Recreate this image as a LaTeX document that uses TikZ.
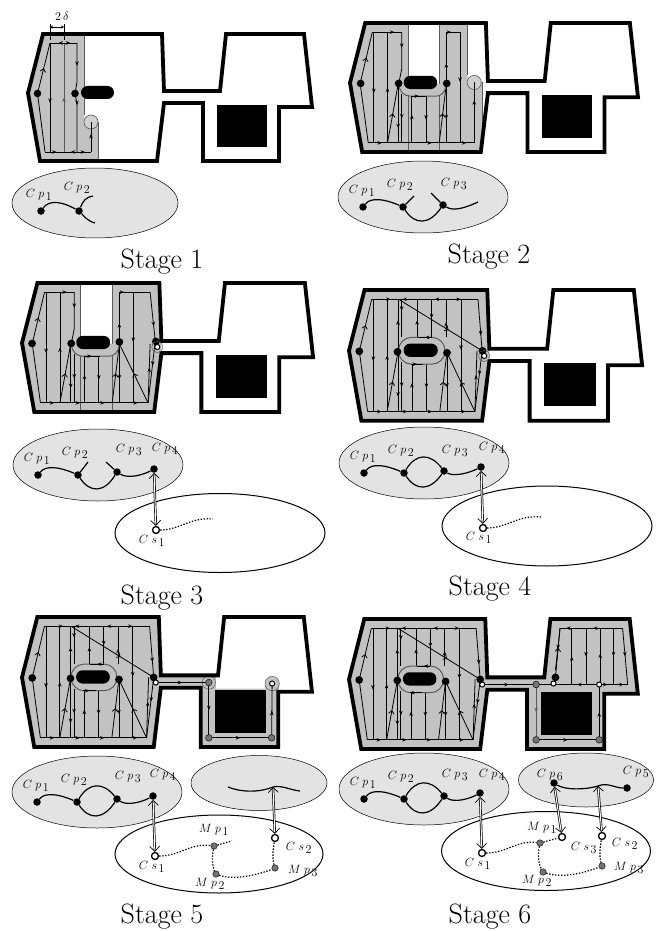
\documentclass[tikz,border=0pt]{standalone}
\usepackage{amsmath}
\usepackage{amssymb}
\usetikzlibrary{arrows.meta,decorations.markings}
\definecolor{cellgray}{gray}{0.76}
\definecolor{mapgray}{gray}{0.89}
\definecolor{edgegray}{gray}{0.35}
\tikzset{
  wall/.style={line width=3.8pt,miter limit=4},
  track/.style={line width=.8pt},
  flow/.style={track,postaction={decorate,decoration={markings,mark=at position #1 with {\arrow{Stealth[length=4.5pt,width=3.6pt]}}}}},
  flow/.default=0.5,
  vflow/.style={track,postaction={decorate,decoration={markings,mark=at position #1 with {\arrow{Straight Barb[length=3pt,width=5.5pt]}}}}},
  vflow/.default=0.5,
  blackdot/.style={circle,fill=black,inner sep=0pt,minimum size=7.5pt},
  graydot/.style={circle,fill=black!55,draw=black,line width=.4pt,inner sep=0pt,minimum size=6.5pt},
  opendot/.style={circle,fill=white,draw=black,line width=1.3pt,inner sep=0pt,minimum size=7pt},
  road/.style={line width=1.2pt},
  trail/.style={line width=1.2pt,dash pattern=on 1.4pt off 1.6pt},
  link/.style={double,double distance=1pt,line width=.7pt,<->,>={Straight Barb[length=5pt,width=10pt]}},
  tag/.style={inner sep=0pt,font=\fontsize{12.5}{14}\selectfont},
  stagetag/.style={inner sep=0pt,font=\fontsize{28}{30}\selectfont},
}
\newcommand{\cpt}[1]{$C\;p_{\,\textstyle #1}$}
\newcommand{\cst}[1]{$C\;s_{\,\textstyle #1}$}
\newcommand{\mpt}[1]{$M\;p_{\,\textstyle #1}$}
\newcommand{\planwalls}{
  \draw[wall] (15,0) -- (134,0) -- (136,57) -- (192,57) -- (198,0) -- (276,0) -- (284,73) -- (251,73) -- (251,127) -- (175,127) -- (175,69) -- (136,69) -- (129,127) -- (12,127) -- (0,59) -- cycle;
  \fill (189,71) rectangle (239,113);
  \fill[rounded corners=6.5pt] (53,52) rectangle (86,65);
}
\newcommand{\leftside}{
  \draw[vflow] (10,59.5) -- (22,9);
  \draw[track] (10,59.5) -- (18,118);
  \draw[flow=.55] (23.5,9) -- (23.5,118);
  \draw[flow=.5] (37,118) -- (37,9);
  \draw[vflow=.5] (37,118) -- (47.5,60);
  \draw[flow=.75] (47.5,60) -- (47.5,118);
  \draw[flow] (51,70) -- (51,118);
  \draw[flow=.6] (61,118) -- (61,72);
  \draw[flow=.5] (75,72) -- (75,118);
  \draw[vflow=.5] (88,118) -- (95,60);
  \draw[flow=.6] (95,60) -- (95,118);
  \draw[flow=.45] (108.5,9) -- (108.5,118);
}
\newcommand{\lowerhalo}{
  \draw[edgegray,line width=1pt,fill=cellgray] (48,60) .. controls (49,68) and (53,72) .. (60,72) -- (84,72) .. controls (91,72) and (94,68) .. (95,60);
  \draw[flow=.5] (60,72) -- (76,72);
}
\newcommand{\openroom}{
  \draw[edgegray,line width=.6pt] (57,0) -- (57,127) (88,0) -- (88,127);
  \leftside
  \draw[flow=.75] (22,9) -- (51,9);
  \draw[flow=.3] (51,9) -- (51,45) -- (48,60);
  \lowerhalo
  \draw[flow=.4] (95,60) -- (95,9);
  \draw[flow=.35] (95,9) -- (108.5,9);
}
\newcommand{\fullroom}{
  \fill[cellgray] (15,0) -- (134,0) -- (136,57) -- (136,69) -- (129,127) -- (12,127) -- (0,59) -- cycle;
  \leftside
  \draw[track] (22,9) -- (125,9);
  \draw[flow=.8] (22,9) -- (45,9);
  \draw[flow=.8] (66,9) -- (48,9);
  \draw[flow=.8] (95,9) -- (80,9);
  \draw[flow=.9] (94,9) -- (110,9);
  \draw[flow=.6] (47.5,60) -- (47.5,9);
  \draw[flow=.3,line width=1pt] (51,9) -- (51,46);
  \draw[flow=.45] (66,46) -- (66,9);
  \draw[flow=.5] (80,9) -- (80,46);
  \draw[flow=.4] (94,46) -- (94,9);
  \draw[vflow=.6] (48,9) -- (129,59);
  \draw[vflow=.5] (122,118) -- (95,61);
  \draw[flow=.7] (125,9) -- (129,59);
  \draw[flow=.4] (129,59) -- (122,118);
  \draw[flow=.6] (122,118) -- (124,59);
  \draw[edgegray,line width=1pt,fill=cellgray,rounded corners=13pt] (48,46) rectangle (93,72);
  \draw[flow=.5] (80,46) -- (67,46);
  \draw[flow=.5] (60,72) -- (72,72);
}
\newcommand{\bottomrun}{
  \draw[track] (18,118) -- (122,118);
  \draw[flow=.9] (18,118) -- (33,118);
  \draw[flow=.9] (35,118) -- (59,118);
  \draw[flow=.9] (60,118) -- (83,118);
  \draw[flow=.9] (85,118) -- (116,118);
}
\newcommand{\leftmap}{
  \filldraw[fill=mapgray,line width=.5pt] (0,0) ellipse [x radius=85,y radius=36];
  \node[blackdot] (cp1) at (-60,10) {};
  \node[blackdot] (cp2) at (-20,10) {};
  \node[tag] (tp1) at (-61,-6) {\cpt{1}};
  \node[tag] (tp2) at (-23,-12) {\cpt{2}};
  \draw[road] (cp1) .. controls (-52,0) and (-38,2) .. (cp2);
}
\begin{document}
\begin{tikzpicture}[x=1pt,y=-1pt]
\useasboundingbox (0,0) rectangle (657,931);
% stage 1
\begin{scope}[shift={(28,34)}]
  \fill[cellgray] (0,59) -- (15,0) -- (56,0) -- (56,88) -- (70,88) -- (70,127) -- (12,127) -- cycle;
  \draw[edgegray,line width=.6pt] (56,0) -- (56,81) (70,88) -- (70,127);
  \draw[edgegray,fill=black!18,line width=.6pt] (63,88) circle (7);
  \draw[vflow] (9.5,59.5) -- (22,9);
  \draw[track] (9.5,59.5) -- (17,118);
  \draw[flow=.55] (22,9) -- (22,118);
  \draw[flow=.5,edgegray,line width=1pt] (36,118) -- (36,9);
  \draw[track] (22,9) -- (49,9);
  \draw[flow=.8] (36,9) -- (29,9);
  \draw[flow=.8] (36,9) -- (44,9);
  \draw[flow=.45] (49,9) -- (49,48) -- (47,59.5);
  \draw[flow=.2] (47,59.5) -- (49,70) -- (49,118);
  \draw[track] (17,118) -- (63,118);
  \draw[flow=.9] (17,118) -- (30,118);
  \draw[flow=.9] (49,118) -- (42,118);
  \draw[flow=.9] (49,118) -- (58,118);
  \draw[flow=.6] (63,118) -- (63,88);
  \planwalls
  \fill (9.5,59.5) circle (3.8) (47,59.5) circle (3.8);
  \draw[track] (22,-10) -- (22,6) (36,-10) -- (36,6);
  \draw[track,<->,>={Stealth[length=3pt,width=3pt]}] (22,-7) -- (36,-7);
  \node[tag] (gap) at (34,-18) {$2\,\delta$};
\end{scope}
\begin{scope}[shift={(95,203)}]
  \filldraw[fill=mapgray,line width=.5pt] (0,0) ellipse [x radius=83,y radius=35];
  \node[blackdot] (cp1) at (-54,8) {};
  \node[blackdot] (cp2) at (-16,8) {};
  \node[tag] (tp1) at (-56,-8) {\cpt{1}};
  \node[tag] (tp2) at (-18,-15) {\cpt{2}};
  \draw[road] (cp1) .. controls (-46,-3) and (-34,-2) .. (cp2);
  \draw[road] (cp2) .. controls (-12,-2) and (-9,-6) .. (-2,-7);
  \draw[road] (cp2) .. controls (-12,12) and (-8,18) .. (0,20);
\end{scope}
\node[stagetag] (stage1) at (162,262) {Stage 1};
% stage 2
\begin{scope}[shift={(350,23)},xscale=1.014,yscale=1.016]
  \fill[cellgray] (0,59) -- (15,0) -- (57,0) -- (57,60) -- (88,60) -- (88,0) -- (116,0) -- (116,58) -- (130,58) -- (130,118) -- (129,127) -- (12,127) -- cycle;
  \draw[edgegray,line width=.6pt] (116,0) -- (116,51) (130,58) -- (130,120);
  \draw[edgegray,fill=black!18,line width=.6pt] (122.5,58.5) circle (7);
  \openroom
  \draw[flow=.7] (122.5,118) -- (122.5,58);
  \draw[track] (18,118) -- (122.5,118);
  \draw[flow=.9] (18,118) -- (33,118);
  \draw[flow=.9] (60,118) -- (83,118);
  \draw[flow=.9] (85,118) -- (118,118);
  \planwalls
  \fill (10.5,59.5) circle (3.8) (48,59.5) circle (3.8) (95.4,59.5) circle (3.8);
\end{scope}
\begin{scope}[shift={(423,197)}]
  \leftmap
  \node[blackdot] (cp3) at (20,8) {};
  \node[tag] (tp3) at (31,-13) {\cpt{3}};
  \draw[road] (cp2) .. controls (-8,28) and (6,28) .. (cp3);
  \draw[road] (cp2) -- (-9,-1);
  \draw[road] (cp3) -- (8,-4);
  \draw[road] (cp3) .. controls (30,14) and (40,12) .. (55,5);
\end{scope}
\node[stagetag] (stage2) at (489,257) {Stage 2};
% stage 3
\begin{scope}[shift={(22,283)},xscale=1.025,yscale=1.016]
  \fill[cellgray] (0,59) -- (15,0) -- (57,0) -- (57,60) -- (88,60) -- (88,0) -- (134,0) -- (136,57) -- (136,69) -- (129,127) -- (12,127) -- cycle;
  \openroom
  \draw[track] (95,9) -- (125,9);
  \draw[flow=.7] (125,9) -- (130,57);
  \draw[flow=.4] (130,57) -- (123,118);
  \draw[flow=.6] (123,118) -- (125,60);
  \draw[vflow=.5] (123,118) -- (95,60);
  \bottomrun
  \planwalls
  \fill (9.8,59.5) circle (3.8) (48,59.5) circle (3.8) (95,58) circle (3.8) (130.6,57.5) circle (3.8);
  \draw[edgegray,line width=.5pt] (132,63) circle (5.5);
  \draw[fill=white,line width=1pt] (132,63) circle (2.5);
\end{scope}
\begin{scope}[shift={(98,465)}]
  \leftmap
  \node[blackdot] (cp3) at (19,7) {};
  \node[blackdot] (cp4) at (56,4) {};
  \node[tag] (tp3) at (31,-15) {\cpt{3}};
  \node[tag] (tp4) at (67,-16) {\cpt{4}};
  \draw[road] (cp2) .. controls (-8,28) and (6,28) .. (cp3);
  \draw[road] (cp2) -- (-10,-3);
  \draw[road] (cp3) -- (8,-3);
  \draw[road] (cp3) .. controls (30,14) and (45,10) .. (cp4);
\end{scope}
\draw[line width=1pt] (220,533) ellipse [x radius=105,y radius=39.5];
\node[opendot] (cs1) at (156,530) {};
\node[tag] (ts1) at (152,541) {\cst{1}};
\draw[trail] (cs1) .. controls (180,530) and (190,517) .. (213,519);
\draw[link] (cp4) -- (cs1);
\node[stagetag] (stage3) at (162,598) {Stage 3};
% stage 4
\begin{scope}[shift={(349,290)},xscale=1.032,yscale=1.03]
  \fullroom
  \bottomrun
  \planwalls
  \fill (10,59.5) circle (3.8) (47,60) circle (3.8) (95,61) circle (3.8) (129.4,59) circle (3.8);
  \draw[edgegray,line width=.5pt] (131,64) circle (5.5);
  \draw[fill=white,line width=1pt] (131,64) circle (2.5);
\end{scope}
\begin{scope}[shift={(424,463)}]
  \leftmap
  \node[blackdot] (cp3) at (20,8) {};
  \node[blackdot] (cp4) at (57,4) {};
  \node[tag] (tp3) at (31,-12) {\cpt{3}};
  \node[tag] (tp4) at (68,-15) {\cpt{4}};
  \draw[road] (cp2) .. controls (-8,28) and (6,28) .. (cp3);
  \draw[road] (cp2) .. controls (-8,-10) and (6,-10) .. (cp3);
  \draw[road] (cp3) .. controls (30,14) and (45,10) .. (cp4);
\end{scope}
\draw[line width=1pt] (547,526) ellipse [x radius=105,y radius=40];
\node[opendot] (cs1) at (483,528) {};
\node[tag] (ts1) at (479,538) {\cst{1}};
\draw[trail] (cs1) .. controls (507,528) and (517,515) .. (541,517);
\draw[link] (cp4) -- (cs1);
\node[stagetag] (stage4) at (490,589) {Stage 4};
% stage 5
\begin{scope}[shift={(22,617)},xscale=1.021,yscale=1.024]
  \fill[cellgray] (130,57) -- (190,57) -- (190,70) -- (238,70) -- (238,64) -- (252,64) -- (251,127) -- (175,127) -- (175,69) -- (130,69) -- cycle;
  \fullroom
  \bottomrun
  \draw[edgegray,fill=cellgray,line width=.5pt] (183,64) circle (6.5) (245,65) circle (7);
  \planwalls
  \draw[flow=.5] (131,64) -- (183,64);
  \draw[flow=.5] (183,64) -- (183,118);
  \draw[flow=.5] (183,118) -- (244.5,118);
  \draw[flow=.5] (244.5,118) -- (245,65);
  \fill (10,59.5) circle (3.8) (47.5,60) circle (3.8) (95,61) circle (3.8) (129,59) circle (3.8);
  \draw[fill=white,line width=1pt] (131,64) circle (2.5);
  \draw[fill=black!55,line width=.4pt] (183,64) circle (3.3) (183,118) circle (3.3) (244.5,118) circle (3.3);
  \draw[fill=white,line width=1pt] (245,65) circle (2.5);
\end{scope}
\begin{scope}[shift={(97,792)}]
  \leftmap
  \node[blackdot] (cp3) at (20,7) {};
  \node[blackdot] (cp4) at (56,4) {};
  \node[tag] (tp3) at (31,-15) {\cpt{3}};
  \node[tag] (tp4) at (66,-17) {\cpt{4}};
  \draw[road] (cp2) .. controls (-8,28) and (6,28) .. (cp3);
  \draw[road] (cp2) .. controls (-8,-10) and (6,-10) .. (cp3);
  \draw[road] (cp3) .. controls (30,14) and (45,10) .. (cp4);
\end{scope}
\filldraw[fill=mapgray,line width=.5pt] (259,783) ellipse [x radius=68,y radius=27.5];
\coordinate (ra) at (228,787);
\coordinate (rmid) at (273,787);
\coordinate (rb) at (300,791);
\draw[road] (ra) .. controls (240,792) and (258,793) .. (rmid) .. controls (282,785) and (290,790) .. (rb);
\draw[line width=1pt] (219,854) ellipse [x radius=104,y radius=39];
\node[opendot] (cs1) at (155,856) {};
\node[opendot] (cs2) at (275,838) {};
\node[graydot] (mp1) at (214,846) {};
\node[graydot] (mp2) at (216,874) {};
\node[graydot] (mp3) at (275,868) {};
\node[tag] (ts1) at (152,867) {\cst{1}};
\node[tag] (ts2) at (299,848) {\cst{2}};
\node[tag] (tm1) at (214,830) {\mpt{1}};
\node[tag] (tm2) at (210,884) {\mpt{2}};
\node[tag] (tm3) at (303,871) {\mpt{3}};
\draw[trail] (cs1) .. controls (180,856) and (190,843) .. (mp1);
\draw[trail] (mp1) -- (232,841);
\draw[trail] (mp1) .. controls (212,856) and (212,866) .. (mp2);
\draw[trail] (mp2) .. controls (232,880) and (255,876) .. (mp3);
\draw[trail] (mp3) .. controls (272,858) and (273,850) .. (cs2);
\draw[link] (cp4) -- (cs1);
\draw[link] (rmid) -- (cs2);
\node[stagetag] (stage5) at (162,917) {Stage 5};
% stage 6
\begin{scope}[shift={(349,619)},xscale=1.017,yscale=1.024]
  \fill[cellgray] (15,0) -- (134,0) -- (136,57) -- (192,57) -- (198,0) -- (276,0) -- (284,73) -- (251,73) -- (251,127) -- (175,127) -- (175,69) -- (136,69) -- (129,127) -- (12,127) -- (0,59) -- cycle;
  \fullroom
  \bottomrun
  \draw[track] (207.5,9) -- (269,9);
  \draw[flow=.8] (219,9) -- (212,9);
  \draw[flow=.8] (247,9) -- (238,9);
  \draw[vflow=.6] (203,57) -- (207.5,9);
  \draw[flow=.5] (207.5,9) -- (203,50);
  \draw[flow=.5] (219,64) -- (219,9);
  \draw[flow=.5] (233,9) -- (233,64);
  \draw[flow=.55] (247,64) -- (247,9);
  \draw[flow=.5] (260,9) -- (260,64);
  \draw[flow=.5] (269,9) -- (274,64);
  \draw[track] (131,64) -- (274,64);
  \draw[flow=.5] (131,64) -- (183,64);
  \draw[flow=.8] (233,64) -- (222,64);
  \draw[flow=.8] (247,64) -- (256,64);
  \draw[flow=.8] (262,64) -- (272,64);
  \planwalls
  \draw[flow=.5,line width=1pt,edgegray] (184,64) -- (184,118);
  \draw[flow=.5] (184,118) -- (246,118);
  \draw[flow=.5] (246,118) -- (246,64);
  \fill (10,59.5) circle (3.8) (47.5,60) circle (3.8) (95,61) circle (3.8) (129,59) circle (3.8) (203,57) circle (3.8);
  \draw[fill=white,line width=1pt] (131,64) circle (2.5) (201,63) circle (2.5) (246,64) circle (2.5);
  \draw[fill=black!55,line width=.4pt] (184,64) circle (3.3) (184,118) circle (3.3) (246,118) circle (3.3);
\end{scope}
\begin{scope}[shift={(424,789)}]
  \leftmap
  \node[blackdot] (cp3) at (20,7) {};
  \node[blackdot] (cp4) at (56,4) {};
  \node[tag] (tp3) at (31,-14) {\cpt{3}};
  \node[tag] (tp4) at (68,-14) {\cpt{4}};
  \draw[road] (cp2) .. controls (-8,28) and (6,28) .. (cp3);
  \draw[road] (cp2) .. controls (-8,-10) and (6,-10) .. (cp3);
  \draw[road] (cp3) .. controls (30,14) and (45,10) .. (cp4);
\end{scope}
\filldraw[fill=mapgray,line width=.5pt] (586,780) ellipse [x radius=67.5,y radius=27];
\node[blackdot] (cp6) at (554,783) {};
\node[blackdot] (cp5) at (627,788) {};
\node[tag] (tp6) at (550,775) {\cpt{6}};
\node[tag] (tp5) at (636,772) {\cpt{5}};
\coordinate (rmid) at (598,786);
\draw[road] (cp6) .. controls (565,790) and (585,790) .. (rmid) .. controls (607,782) and (615,788) .. (cp5);
\draw[line width=1pt] (546,851) ellipse [x radius=104.5,y radius=39.5];
\node[opendot] (cs1) at (482,853) {};
\node[opendot] (cs3) at (562,837) {};
\node[opendot] (cs2) at (602,836) {};
\node[graydot] (mp1) at (540,843) {};
\node[graydot] (mp2) at (543,872) {};
\node[graydot] (mp3) at (602,866) {};
\node[tag] (ts1) at (478,864) {\cst{1}};
\node[tag] (ts3) at (584,848) {\cst{3}};
\node[tag] (ts2) at (625,844) {\cst{2}};
\node[tag] (tm1) at (542,828) {\mpt{1}};
\node[tag] (tm2) at (537,881) {\mpt{2}};
\node[tag] (tm3) at (629,868) {\mpt{3}};
\draw[trail] (cs1) .. controls (507,853) and (517,840) .. (mp1);
\draw[trail] (mp1) -- (cs3);
\draw[trail] (mp1) .. controls (538,853) and (538,863) .. (mp2);
\draw[trail] (mp2) .. controls (560,878) and (582,874) .. (mp3);
\draw[trail] (mp3) .. controls (599,856) and (600,848) .. (cs2);
\draw[link] (cp4) -- (cs1);
\draw[link] (cp6) -- (cs3);
\draw[link] (rmid) -- (cs2);
\node[stagetag] (stage6) at (490,917) {Stage 6};
\end{tikzpicture}
\end{document}
